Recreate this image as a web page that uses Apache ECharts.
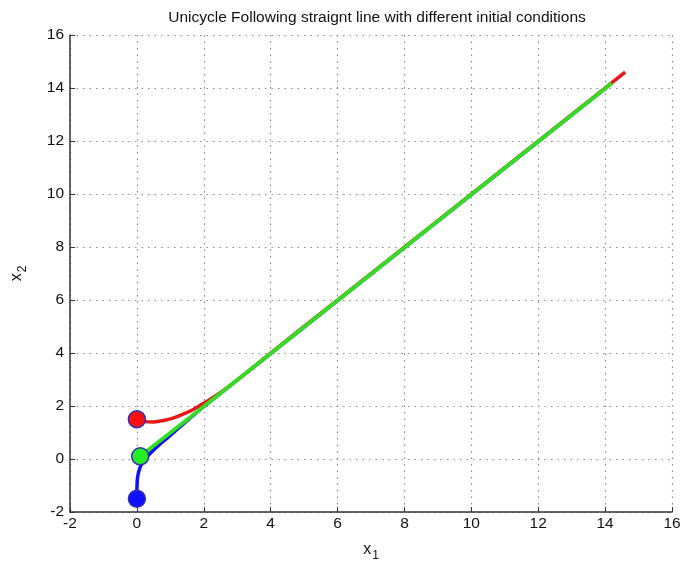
<!DOCTYPE html>
<html>
<head>
<meta charset="utf-8">
<script src="https://cdn.jsdelivr.net/npm/echarts@6/dist/echarts.min.js"></script>
<style>
  html, body { margin: 0; padding: 0; background: #fff; }
  #main { width: 683px; height: 565px; }
</style>
</head>
<body>
<div id="main"></div>
<script>
// trajectories
var redX = [0, 0.2, 0.5, 0.8, 1.1, 1.4, 1.7, 2.0, 2.3, 2.6, 2.9, 3.3, 4, 6, 8, 10, 12, 14, 14.6];
var redY = [1.5, 1.42, 1.40, 1.45, 1.55, 1.70, 1.88, 2.10, 2.34, 2.6, 2.88, 3.28, 4, 6, 8, 10, 12, 14, 14.6];

var blueX = [0, 0, 0.005, 0.02, 0.06, 0.13, 0.22, 0.35, 0.55, 0.8, 1.1, 1.5, 2, 4, 6, 8, 10, 12, 14];
var blueY = [-1.5, -1.2, -0.95, -0.7, -0.45, -0.22, -0.05, 0.15, 0.4, 0.68, 1.0, 1.45, 1.98, 3.98, 5.98, 7.98, 9.98, 11.98, 13.98];

var greenX = [0.1, 0.5, 1, 2, 4, 6, 8, 10, 12, 14.2];
var greenY = [0.1, 0.5, 0.99, 1.98, 3.98, 5.98, 7.98, 9.98, 11.98, 14.18];

var startX = [0, 0.1, 0];
var startY = [1.5, 0.1, -1.5];
var startColors = ['#ff1010', '#22ee22', '#1010ff'];

var xTicks = [-2, 0, 2, 4, 6, 8, 10, 12, 14, 16];
var yTicks = [-2, 0, 2, 4, 6, 8, 10, 12, 14, 16];

function pairs(xs, ys) {
  return xs.map(function (x, i) { return [x, ys[i]]; });
}

var chart = echarts.init(document.getElementById('main'));

var font = 'Liberation Sans, Arial, sans-serif';

var gridLine = { show: true, lineStyle: { color: '#888', type: [1.5, 5], width: 1.2 } };

var option = {
  animation: false,
  title: {
    text: 'Unicycle Following straignt line with different initial conditions',
    left: 372,
    textAlign: 'center',
    top: 5,
    textStyle: { fontFamily: font, fontSize: 15.5, fontWeight: 'normal', color: '#111' }
  },
  grid: { left: 70, right: 11, top: 35, bottom: 53, outerBoundsMode: 'none' },
  xAxis: {
    type: 'value',
    min: xTicks[0], max: xTicks[xTicks.length - 1], interval: 2,
    name: '{a|x}{b|1}',
    nameLocation: 'middle',
    nameGap: 25,
    nameTextStyle: {
      rich: {
        a: { fontFamily: font, fontSize: 16, color: '#111' },
        b: { fontFamily: font, fontSize: 12, color: '#111', padding: [13, 0, 0, 1] }
      }
    },
    axisLine: { onZero: false, lineStyle: { color: '#333', width: 1.5 } },
    axisTick: { inside: true, length: 5, lineStyle: { color: '#333' } },
    axisLabel: { fontFamily: font, fontSize: 15.5, color: '#111', margin: 4 },
    splitLine: gridLine
  },
  yAxis: {
    type: 'value',
    min: yTicks[0], max: yTicks[yTicks.length - 1], interval: 2,
    name: '{a|x}{b|2}',
    nameLocation: 'middle',
    nameGap: 41,
    nameRotate: 90,
    nameTextStyle: {
      rich: {
        a: { fontFamily: font, fontSize: 16, color: '#111' },
        b: { fontFamily: font, fontSize: 12, color: '#111', padding: [13, 0, 0, 1] }
      }
    },
    axisLine: { onZero: false, lineStyle: { color: '#333', width: 1.5 } },
    axisTick: { inside: true, length: 5, lineStyle: { color: '#333' } },
    axisLabel: { fontFamily: font, fontSize: 15.5, color: '#111', margin: 6 },
    splitLine: gridLine
  },
  series: [
    {
      type: 'line', data: pairs(blueX, blueY), showSymbol: false, smooth: 0.2,
      lineStyle: { color: '#1010ff', width: 3.5 }, z: 2
    },
    {
      type: 'line', data: pairs(redX, redY), showSymbol: false, smooth: 0.2,
      lineStyle: { color: '#e81818', width: 3.5 }, z: 3
    },
    {
      type: 'line', data: pairs(greenX, greenY), showSymbol: false,
      lineStyle: { color: '#33dd22', width: 3.8 }, z: 4
    },
    {
      type: 'scatter',
      data: pairs(startX, startY).map(function (p, i) {
        return { value: p, itemStyle: { color: startColors[i] } };
      }),
      symbolSize: 17,
      itemStyle: { borderColor: '#3030b0', borderWidth: 1.5, opacity: 1 },
      z: 5
    }
  ]
};

chart.setOption(option);
</script>
</body>
</html>
